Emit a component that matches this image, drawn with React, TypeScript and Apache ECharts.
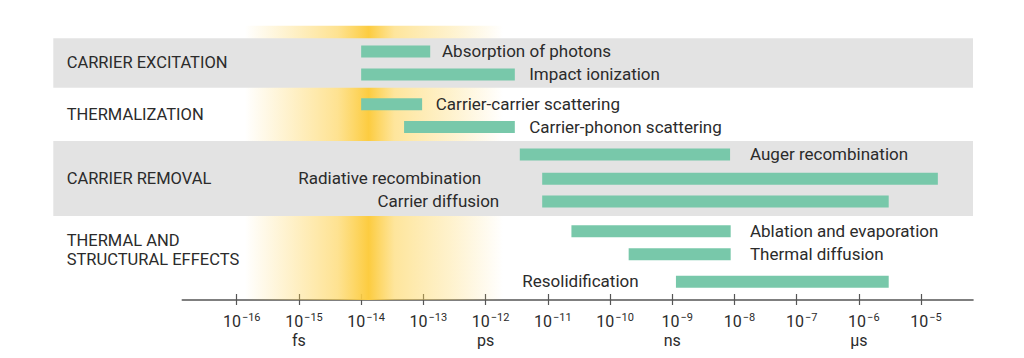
import React, { useEffect, useRef } from "react";
import * as echarts from "echarts";

// ---- data (time in log10 seconds) ----
const processes = [
  "Absorption of photons",
  "Impact ionization",
  "Carrier-carrier scattering",
  "Carrier-phonon scattering",
  "Auger recombination",
  "Radiative recombination",
  "Carrier diffusion",
  "Ablation and evaporation",
  "Thermal diffusion",
  "Resolidification",
];
const startExp = [-14, -14, -14, -13.31, -11.45, -11.09, -11.09, -10.62, -9.7, -8.94];
const endExp = [-12.89, -11.53, -13.02, -11.53, -8.07, -4.73, -5.52, -8.06, -8.06, -5.52];
const rowPos = [0, 1, 2.3, 3.3, 4.5, 5.55, 6.55, 7.85, 8.85, 10.05];
const labelAt = [-12.7, -11.3, -12.8, -11.3, -7.75, -12.07, -11.78, -7.75, -7.75, -9.54];
const labelSide = ["right", "right", "right", "right", "right", "left", "left", "right", "right", "left"];

const groups = ["CARRIER EXCITATION", "THERMALIZATION", "CARRIER REMOVAL", "THERMAL AND\nSTRUCTURAL EFFECTS"];
const groupFrom = [-0.58, 1.58, 3.91, 7.18];
const groupTo = [1.58, 3.91, 7.18, 10.15];
const groupShaded = [true, false, true, false];

const tickExp = [-16, -15, -14, -13, -12, -11, -10, -9, -8, -7, -6, -5];
const tickUnits: Record<string, string> = { "-15": "fs", "-12": "ps", "-9": "ns", "-6": "µs" };

const zoneFrom = -15.87;
const zoneTo = -11.72;
const zoneTop = -1.13;

// ---- layout ----
const X_MIN = -16.875;
const X_MAX = -4.165;
const Y_MIN = -1.5;
const Y_MAX = 10.85;
const ROW_PX = 22.9;
const AXIS_Y = 300;
const FONT = "Roboto, 'Noto Sans', sans-serif";
const TEXT = "#2b2b2b";
const BAR = "#78c8aa";
const BAND = "#e3e3e3";

export default function App() {
  const ref = useRef<HTMLDivElement>(null);
  useEffect(() => {
    if (!ref.current) return;
    const chart = echarts.init(ref.current, null, { renderer: "svg" });
    const gridHeight = (Y_MAX - Y_MIN) * ROW_PX;

    const labelFormatter = (v: number) => {
      const key = String(Math.round(v));
      const exp = "\u2212" + Math.abs(Math.round(v));
      let s = `{b|10}{s|${exp}}`;
      if (tickUnits[key]) s += `\n{u|${tickUnits[key]}}`;
      return s;
    };

    chart.setOption({
      animation: false,
      grid: {
        left: 182.3,
        right: 1024 - 973,
        top: AXIS_Y - gridHeight,
        height: gridHeight,
      },
      xAxis: [
        {
          type: "value",
          min: X_MIN,
          max: X_MAX,
          position: "bottom",
          axisLine: { show: true, onZero: false, lineStyle: { color: "#555", width: 1.6 } },
          axisTick: { show: true, inside: true, length: 6, customValues: tickExp, lineStyle: { color: "#555", width: 1.2 } },
          axisLabel: { show: false },
          splitLine: { show: false },
        },
        {
          type: "value",
          min: X_MIN,
          max: X_MAX,
          position: "bottom",
          axisLine: { show: false, onZero: false },
          axisTick: { show: true, inside: false, length: 5, customValues: tickExp, lineStyle: { color: "#555", width: 1.2 } },
          axisLabel: {
            show: true,
            customValues: tickExp,
            margin: 12,
            formatter: labelFormatter,
            rich: {
              b: { fontSize: 16, fontFamily: FONT, color: TEXT, lineHeight: 19, padding: [0, 0, 0, 10] },
              s: { fontSize: 11, fontFamily: FONT, color: TEXT, lineHeight: 19, verticalAlign: "top", padding: [0, 0, 0, 1] },
              u: { fontSize: 16, fontFamily: FONT, color: TEXT, lineHeight: 19 },
            },
          },
          splitLine: { show: false },
        },
      ],
      yAxis: {
        type: "value",
        min: Y_MIN,
        max: Y_MAX,
        inverse: true,
        show: false,
        splitLine: { show: false },
      },
      series: [
        {
          type: "custom",
          name: "zone",
          z: 1,
          clip: false,
          data: [[zoneFrom, zoneTo, zoneTop, Y_MAX]],
          renderItem: (params: any, api: any) => {
            const p0 = api.coord([api.value(0), api.value(2)]);
            const p1 = api.coord([api.value(1), api.value(3)]);
            return {
              type: "rect",
              shape: { x: p0[0], y: p0[1], width: p1[0] - p0[0], height: p1[1] - p0[1] },
              style: {
                fill: new echarts.graphic.LinearGradient(0, 0, 1, 0, [
                  { offset: 0, color: "rgba(253,207,72,0)" },
                  { offset: 0.18, color: "rgba(253,208,75,0.3)" },
                  { offset: 0.36, color: "rgba(253,207,72,0.6)" },
                  { offset: 0.48, color: "rgba(252,204,64,1)" },
                  { offset: 0.58, color: "rgba(253,208,75,0.55)" },
                  { offset: 0.8, color: "rgba(253,212,90,0.3)" },
                  { offset: 1, color: "rgba(253,212,90,0)" },
                ]),
              },
            };
          },
        },
        {
          type: "custom",
          name: "groups",
          z: 2,
          clip: false,
          data: groups.map((g, i) => [X_MIN, groupFrom[i], groupTo[i]]),
          renderItem: (params: any, api: any) => {
            const i = params.dataIndex;
            const cs = params.coordSys;
            const top = api.coord([X_MIN, api.value(1)])[1];
            const bottom = api.coord([X_MIN, api.value(2)])[1];
            const left = cs.x - 129;
            const children: any[] = [];
            if (groupShaded[i]) {
              children.push({
                type: "rect",
                shape: { x: left, y: top, width: cs.x + cs.width - left, height: bottom - top },
                style: { fill: BAND },
              });
            }
            children.push({
              type: "text",
              x: left + 13.4,
              y: (top + bottom) / 2,
              style: {
                text: groups[i],
                fill: TEXT,
                fontSize: 16.5,
                fontFamily: FONT,
                lineHeight: 18.5,
                verticalAlign: "middle",
                align: "left",
              },
            });
            return { type: "group", children };
          },
        },
        {
          type: "custom",
          name: "processes",
          z: 3,
          clip: false,
          data: processes.map((p, i) => [startExp[i], endExp[i], rowPos[i], labelAt[i]]),
          renderItem: (params: any, api: any) => {
            const i = params.dataIndex;
            const a = api.coord([api.value(0), api.value(2)]);
            const b = api.coord([api.value(1), api.value(2)]);
            const l = api.coord([api.value(3), api.value(2)]);
            const h = 12;
            return {
              type: "group",
              children: [
                {
                  type: "rect",
                  shape: { x: a[0], y: a[1] - h / 2, width: b[0] - a[0], height: h },
                  style: { fill: BAR },
                },
                {
                  type: "text",
                  x: l[0],
                  y: l[1] - 0.5,
                  style: {
                    text: processes[i],
                    fill: TEXT,
                    fontSize: 17,
                    fontFamily: FONT,
                    verticalAlign: "middle",
                    align: labelSide[i] === "left" ? "right" : "left",
                  },
                },
              ],
            };
          },
        },
      ],
    });
    return () => chart.dispose();
  }, []);
  return (
    <div
      ref={ref}
      style={{ position: "fixed", left: 0, top: 0, width: 1024, height: 358, background: "#fff" }}
    />
  );
}
